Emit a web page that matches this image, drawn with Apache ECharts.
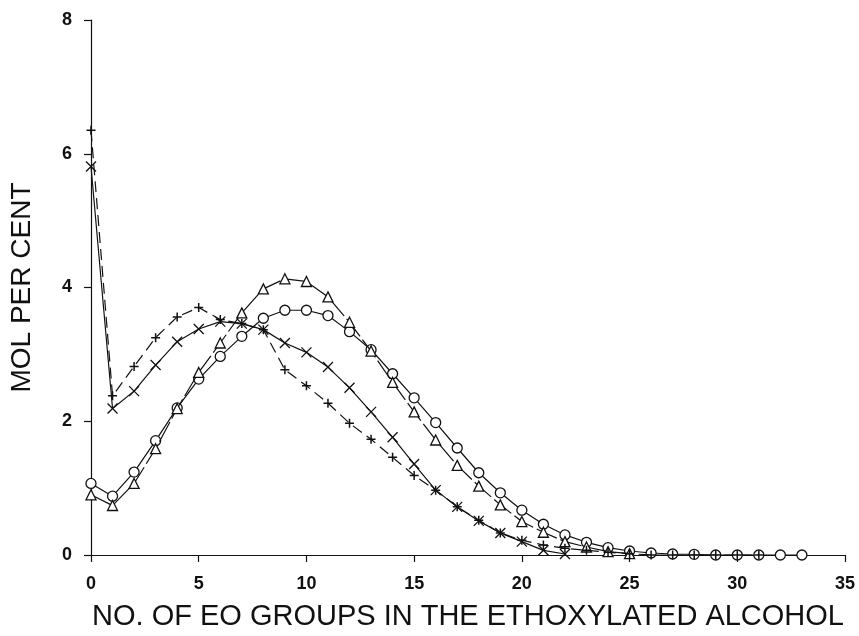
<!DOCTYPE html>
<html>
<head>
<meta charset="utf-8">
<script src="https://cdn.jsdelivr.net/npm/echarts@6/dist/echarts.min.js"></script>
<style>
html,body{margin:0;padding:0;background:#fff;}
#chart{width:859px;height:636px;}
</style>
</head>
<body>
<div id="chart"></div>
<script>
// EO group number (x) for each series
const plusX = [0,1,2,3,4,5,6,7,8,9,10,11,12,13,14,15,16,17,18,19,20,21,22,23,24,25,26,27,28,29,30,31];
const plusY = [6.35,2.38,2.82,3.25,3.56,3.70,3.52,3.46,3.37,2.77,2.53,2.27,1.97,1.73,1.46,1.19,0.97,0.72,0.52,0.33,0.22,0.15,0.10,0.07,0.04,0.02,0,0,0,0,0,0];

const crossX = [0,1,2,3,4,5,6,7,8,9,10,11,12,13,14,15,16,17,18,19,20,21,22];
const crossY = [5.81,2.19,2.45,2.84,3.19,3.38,3.49,3.46,3.37,3.17,3.03,2.81,2.50,2.14,1.76,1.36,0.97,0.72,0.51,0.33,0.20,0.07,0.015];

const triX = [0,1,2,3,4,5,6,7,8,9,10,11,12,13,14,15,16,17,18,19,20,21,22,23,24,25];
const triY = [0.90,0.74,1.07,1.59,2.19,2.73,3.17,3.62,3.98,4.13,4.09,3.86,3.48,3.05,2.58,2.14,1.72,1.34,1.03,0.75,0.50,0.34,0.20,0.12,0.05,0.02];

const circX = [0,1,2,3,4,5,6,7,8,9,10,11,12,13,14,15,16,17,18,19,20,21,22,23,24,25,26,27,28,29,30,31,32,33];
const circY = [1.07,0.88,1.24,1.71,2.20,2.63,2.97,3.27,3.54,3.66,3.66,3.58,3.34,3.07,2.71,2.35,1.98,1.60,1.23,0.93,0.67,0.46,0.30,0.19,0.11,0.06,0.03,0.015,0.01,0,0,0,0,0];

const xTicks = [0,5,10,15,20,25,30,35];
const yTicks = [0,2,4,6,8];
const xTitle = 'NO. OF EO GROUPS IN THE ETHOXYLATED ALCOHOL';
const yTitle = 'MOL PER CENT';

function pairs(xs, ys){ return xs.map((x,i)=>[x, ys[i]]); }

const ink = '#111';
const PLUS = 'path://M0,5L10,5M5,0L5,10';
const CROSS = 'path://M0,0L10,10M10,0L0,10';

const chart = echarts.init(document.getElementById('chart'), null, {renderer:'canvas'});
chart.setOption({
  animation:false,
  backgroundColor:'#fff',
  grid:{left:91,right:14,top:20,bottom:80,containLabel:false},
  xAxis:{
    type:'value', min:xTicks[0], max:xTicks[xTicks.length-1], interval:5,
    name:xTitle, nameLocation:'middle', nameGap:47,
    nameTextStyle:{fontFamily:'Liberation Sans', fontSize:29, color:ink},
    axisLine:{show:true, lineStyle:{color:ink, width:1.2}},
    axisTick:{show:true, inside:false, length:7, lineStyle:{color:ink, width:1.2}},
    axisLabel:{fontFamily:'Liberation Sans', fontWeight:'bold', fontSize:18, color:ink, margin:20},
    splitLine:{show:false}
  },
  yAxis:{
    type:'value', min:yTicks[0], max:yTicks[yTicks.length-1], interval:2,
    name:yTitle, nameLocation:'middle', nameGap:55, nameRotate:90,
    nameTextStyle:{fontFamily:'Liberation Sans', fontSize:28, color:ink},
    axisLine:{show:true, lineStyle:{color:ink, width:1.2}},
    axisTick:{show:true, inside:false, length:7, lineStyle:{color:ink, width:1.2}},
    axisLabel:{fontFamily:'Liberation Sans', fontWeight:'bold', fontSize:18, color:ink, margin:19},
    splitLine:{show:false}
  },
  series:[
    {
      type:'line', data:pairs(circX, circY), symbol:'circle', symbolSize:10,
      lineStyle:{color:ink, width:1.2, type:'solid'},
      itemStyle:{color:'#fff', borderColor:ink, borderWidth:1.3},
      z:3
    },
    {
      type:'line', data:pairs(triX, triY), symbol:'triangle', symbolSize:10,
      lineStyle:{color:ink, width:1.2, type:[22,4]},
      itemStyle:{color:'#fff', borderColor:ink, borderWidth:1.3},
      z:4
    },
    {
      type:'line', data:pairs(crossX, crossY), symbol:CROSS, symbolSize:10,
      lineStyle:{color:ink, width:1.2, type:'solid'},
      itemStyle:{color:'none', borderColor:ink, borderWidth:1.3},
      z:5
    },
    {
      type:'line', data:pairs(plusX, plusY), symbol:PLUS, symbolSize:9,
      lineStyle:{color:ink, width:1.2, type:[11,6]},
      itemStyle:{color:'none', borderColor:ink, borderWidth:1.5},
      z:6
    }
  ]
});
</script>
</body>
</html>
